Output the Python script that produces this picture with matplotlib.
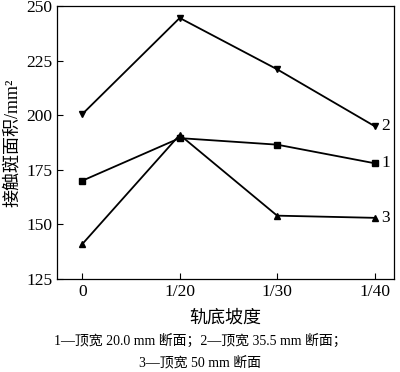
import matplotlib
matplotlib.use("Agg")
import matplotlib.pyplot as plt

categories = ["0", "1/20", "1/30", "1/40"]
series_1 = [170, 189.5, 186.5, 178]
series_2 = [200.5, 244.5, 221, 195]
series_3 = [141, 191, 154, 153]
labels = ["1", "2", "3"]
y_ticks = [125, 150, 175, 200, 225, 250]

FONT = ["Liberation Serif", "Noto Sans CJK SC"]
plt.rcParams["font.family"] = FONT

fig = plt.figure(figsize=(4, 3.72), dpi=100)
ax = fig.add_axes([0.1425, 0.25, 0.8425, 0.734])

x = list(range(len(categories)))
ax.plot(x, series_1, color="black", lw=1.3, marker="s", ms=4.5)
ax.plot(x, series_2, color="black", lw=1.3, marker="v", ms=4.5)
ax.plot(x, series_3, color="black", lw=1.3, marker="^", ms=5)

for vals, lab in zip([series_1, series_2, series_3], labels):
    ax.annotate(lab, (x[-1], vals[-1]), xytext=(5, 0), textcoords="offset points",
                va="center", ha="left", fontsize=12.5)

ax.set_xlim(-0.26, 3.2)
ax.set_ylim(125, 250)
ax.set_xticks(x)
ax.set_xticklabels(categories)
ax.set_yticks(y_ticks)
ax.tick_params(direction="in", labelsize=12.5, length=4, width=0.8)
for s in ax.spines.values():
    s.set_linewidth(0.9)

ax.set_xlabel("轨底坡度", fontsize=13, labelpad=7)
ax.set_ylabel("接触斑面积/mm²", fontsize=13, labelpad=4)

fig.text(0.5, 0.072, "1—顶宽 20.0 mm 断面；2—顶宽 35.5 mm 断面；", ha="center", fontsize=10)
fig.text(0.5, 0.014, "3—顶宽 50 mm 断面", ha="center", fontsize=10)

fig.savefig("out.png", dpi=100)
